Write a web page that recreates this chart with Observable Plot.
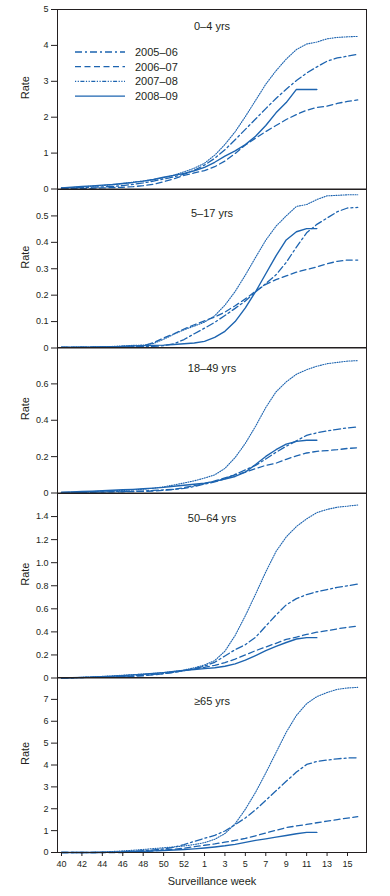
<!DOCTYPE html>
<html>
<head>
<meta charset="utf-8">
<script src="https://cdn.jsdelivr.net/npm/d3@7"></script>
<script src="https://cdn.jsdelivr.net/npm/@observablehq/plot@0.6"></script>
<style>
  html, body { margin: 0; padding: 0; background: #fff; }
  #wrap { position: relative; width: 390px; height: 896px; font-family: "Liberation Sans", Arial, Helvetica, sans-serif; color: #231f20; }
  #wrap svg.panel { position: absolute; left: 0; }
  #legend { position: absolute; left: 0; top: 0; }
</style>
</head>
<body>
<div id="wrap"></div>
<script>
// ---------- data ----------
// surveillance weeks 40..53 of one year, then 1..16 of the next
const weeks = ["40","41","42","43","44","45","46","47","48","49","50","51","52","53","1","2","3","4","5","6","7","8","9","10","11","12","13","14","15","16"];
const weekTicks = ["40","42","44","46","48","50","52","1","3","5","7","9","11","13","15"];
const seasons = ["2005–06", "2006–07", "2007–08", "2008–09"];
const ageGroups = ["0–4 yrs", "5–17 yrs", "18–49 yrs", "50–64 yrs", "≥65 yrs"];

// 0–4 yrs
const a0_s0506 = [0.02,0.03,0.04,0.05,0.06,0.068,0.094,0.13,0.169,0.221,0.279,0.337,0.412,0.521,0.667,0.855,1.093,1.372,1.661,1.95,2.24,2.52,2.78,3.02,3.23,3.4,3.56,3.65,3.7,3.75];
const a0_s0607 = [0.01,0.01,0.02,0.02,0.03,0.04,0.048,0.065,0.092,0.134,0.202,0.285,0.378,0.447,0.511,0.621,0.779,0.989,1.224,1.417,1.601,1.768,1.935,2.075,2.194,2.274,2.307,2.383,2.441,2.48];
const a0_s0708 = [0.03,0.04,0.059,0.078,0.097,0.117,0.152,0.19,0.222,0.264,0.313,0.385,0.478,0.58,0.717,0.943,1.241,1.594,2.017,2.468,2.92,3.293,3.619,3.885,4.038,4.093,4.184,4.222,4.24,4.25];
const a0_s0809 = [0.03,0.05,0.069,0.088,0.107,0.127,0.154,0.183,0.219,0.264,0.326,0.381,0.435,0.509,0.601,0.745,0.916,1.061,1.235,1.47,1.77,2.122,2.407,2.774,2.77,2.77];
// 5–17 yrs
const a5_s0506 = [0.002,0.002,0.002,0.003,0.003,0.004,0.004,0.005,0.005,0.006,0.009,0.016,0.032,0.054,0.075,0.097,0.123,0.15,0.178,0.212,0.244,0.277,0.324,0.382,0.436,0.468,0.492,0.516,0.53,0.532];
const a5_s0607 = [0.002,0.002,0.003,0.003,0.004,0.005,0.006,0.007,0.008,0.02,0.038,0.054,0.072,0.088,0.103,0.117,0.136,0.16,0.186,0.215,0.241,0.259,0.273,0.287,0.297,0.307,0.319,0.328,0.333,0.333];
const a5_s0708 = [0.003,0.003,0.004,0.004,0.005,0.006,0.008,0.01,0.011,0.017,0.033,0.052,0.069,0.083,0.098,0.122,0.162,0.214,0.276,0.343,0.408,0.461,0.5,0.536,0.543,0.562,0.576,0.578,0.58,0.58];
const a5_s0809 = [0.003,0.003,0.003,0.003,0.004,0.005,0.006,0.008,0.009,0.01,0.011,0.013,0.016,0.019,0.025,0.04,0.063,0.1,0.152,0.213,0.281,0.349,0.409,0.44,0.452,0.452];
// 18–49 yrs
const a18_s0506 = [0.002,0.003,0.004,0.005,0.006,0.007,0.008,0.01,0.011,0.014,0.017,0.02,0.025,0.036,0.049,0.061,0.078,0.102,0.127,0.152,0.187,0.224,0.257,0.287,0.317,0.331,0.341,0.35,0.358,0.363];
const a18_s0607 = [0.001,0.002,0.003,0.004,0.005,0.006,0.007,0.008,0.009,0.011,0.015,0.02,0.03,0.04,0.052,0.066,0.083,0.1,0.115,0.134,0.152,0.164,0.185,0.204,0.22,0.229,0.233,0.238,0.245,0.249];
const a18_s0708 = [0.002,0.004,0.006,0.008,0.01,0.012,0.014,0.017,0.021,0.026,0.034,0.044,0.055,0.067,0.082,0.1,0.135,0.195,0.273,0.367,0.47,0.556,0.611,0.653,0.678,0.697,0.711,0.718,0.725,0.728];
const a18_s0809 = [0.004,0.006,0.008,0.01,0.012,0.015,0.018,0.02,0.023,0.027,0.031,0.037,0.043,0.048,0.054,0.064,0.077,0.091,0.115,0.157,0.201,0.238,0.269,0.284,0.29,0.29];
// 50–64 yrs
const a50_s0506 = [0.0,0.002,0.004,0.006,0.009,0.011,0.015,0.019,0.024,0.031,0.038,0.049,0.064,0.081,0.103,0.136,0.191,0.246,0.289,0.353,0.45,0.546,0.634,0.688,0.724,0.748,0.767,0.786,0.8,0.814];
const a50_s0607 = [0.0,0.002,0.004,0.006,0.008,0.01,0.012,0.015,0.019,0.027,0.037,0.049,0.064,0.078,0.093,0.11,0.133,0.164,0.2,0.237,0.269,0.301,0.335,0.355,0.378,0.397,0.411,0.426,0.44,0.45];
const a50_s0708 = [0.0,0.003,0.006,0.01,0.014,0.019,0.024,0.029,0.034,0.04,0.047,0.056,0.069,0.089,0.113,0.151,0.233,0.369,0.54,0.727,0.92,1.097,1.223,1.314,1.38,1.434,1.462,1.481,1.49,1.5];
const a50_s0809 = [0.0,0.002,0.005,0.008,0.011,0.015,0.021,0.027,0.032,0.039,0.047,0.056,0.066,0.074,0.081,0.089,0.102,0.122,0.155,0.195,0.237,0.274,0.308,0.338,0.35,0.35];
// ≥65 yrs
const a65_s0506 = [0.0,0.0,0.0,0.0,0.0,0.008,0.026,0.053,0.082,0.117,0.162,0.242,0.361,0.507,0.651,0.782,0.982,1.272,1.58,1.951,2.385,2.819,3.254,3.678,4.024,4.159,4.225,4.282,4.32,4.33];
const a65_s0607 = [0.0,0.0,0.0,0.0,0.0,0.0,0.0,0.015,0.042,0.071,0.106,0.151,0.199,0.264,0.331,0.393,0.47,0.552,0.644,0.764,0.889,1.017,1.138,1.214,1.283,1.36,1.436,1.504,1.571,1.64];
const a65_s0708 = [0.0,0.0,0.0,0.0,0.017,0.045,0.074,0.103,0.139,0.177,0.216,0.255,0.299,0.364,0.451,0.605,0.865,1.313,1.978,2.751,3.635,4.565,5.496,6.267,6.806,7.125,7.314,7.458,7.521,7.55];
const a65_s0809 = [0.0,0.0,0.0,0.0,0.009,0.018,0.028,0.045,0.057,0.074,0.093,0.112,0.137,0.166,0.205,0.254,0.306,0.372,0.461,0.553,0.624,0.701,0.778,0.856,0.92,0.92];

const yTicks0 = [0,1,2,3,4,5];
const yTicks1 = [0,0.1,0.2,0.3,0.4,0.5];
const yTicks2 = [0,0.2,0.4,0.6];
const yTicks3 = [0,0.2,0.4,0.6,0.8,1.0,1.2,1.4];
const yTicks4 = [0,1,2,3,4,5,6,7];

// ---------- styles ----------
const blue = "#1d64b0";
const ink = "#231f20";
const lineStyles = [
  {dash: "7,3,2,3", w: 1.3},
  {dash: "6,3.5", w: 1.3},
  {dash: "1,1.4", w: 1.1},
  {dash: null, w: 1.4}
];
const legendDash = ["7,3,2,3", "6,3.5", "1.2,1.5,1.2,1.5,4,1.5", null];

const fmt1 = d => d === 0 ? "0" : d3.format(".1f")(d);
const fmtInt = d => String(d);

const panels = [
  {label: ageGroups[0], series: [a0_s0506, a0_s0607, a0_s0708, a0_s0809], domain: [0, 5], ticks: yTicks0, fmt: fmtInt, top: 9, bottom: 188.5, titleDy: 13},
  {label: ageGroups[1], series: [a5_s0506, a5_s0607, a5_s0708, a5_s0809], domain: [0, 0.6], ticks: yTicks1, fmt: fmt1, top: 188.5, bottom: 347, titleDy: 19.5},
  {label: ageGroups[2], series: [a18_s0506, a18_s0607, a18_s0708, a18_s0809], domain: [0, 0.8], ticks: yTicks2, fmt: fmt1, top: 347, bottom: 492.5, titleDy: 17},
  {label: ageGroups[3], series: [a50_s0506, a50_s0607, a50_s0708, a50_s0809], domain: [0, 1.6], ticks: yTicks3, fmt: fmt1, top: 492.5, bottom: 677, titleDy: 20.5},
  {label: ageGroups[4], series: [a65_s0506, a65_s0607, a65_s0708, a65_s0809], domain: [0, 8], ticks: yTicks4, fmt: fmtInt, top: 677, bottom: 852, titleDy: 20, showX: true}
];

const wrap = document.getElementById("wrap");
const xTickIdx = weekTicks.map(w => weeks.indexOf(w));

panels.forEach(p => {
  const pad = 12;
  const mb = p.showX ? (896 - p.bottom) : pad;
  const height = (p.bottom - p.top) + pad + mb;
  const rows = [];
  seasons.forEach((s, k) => p.series[k].forEach((v, i) => rows.push({i, season: s, rate: v})));
  const marks = [
    Plot.axisY(p.ticks, {tickSize: 6, tickPadding: 3, tickFormat: p.fmt, label: null, stroke: ink, fill: ink}),
    ...seasons.map((s, k) => Plot.line(rows.filter(d => d.season === s), {
      x: "i", y: "rate", stroke: blue, strokeWidth: lineStyles[k].w,
      strokeDasharray: lineStyles[k].dash || undefined, strokeLinejoin: "round"
    })),
    Plot.frame({stroke: ink, strokeWidth: 1}),
    Plot.text([p.label], {frameAnchor: "top", dy: p.titleDy, fontSize: 11, fill: ink}),
    Plot.text(["Rate"], {frameAnchor: "left", dx: -32, rotate: -90, fontSize: 11, fill: ink})
  ];
  if (p.showX) {
    marks.push(Plot.axisX(xTickIdx, {tickSize: 4, tickPadding: 4, tickFormat: i => weeks[i], label: null, stroke: ink, fill: ink}));
    marks.push(Plot.text(["Surveillance week"], {frameAnchor: "bottom", dy: 32, fontSize: 11, fill: ink}));
  }
  const chart = Plot.plot({
    width: 390,
    height,
    marginTop: pad,
    marginBottom: mb,
    marginLeft: 57,
    marginRight: 24,
    x: {domain: [-0.39, 29.86], axis: p.showX ? undefined : null},
    y: {domain: p.domain},
    style: {background: "transparent", overflow: "visible", fontSize: "9px", fontFamily: "'Liberation Sans', Arial, Helvetica, sans-serif", color: ink},
    marks
  });
  chart.classList.add("panel");
  chart.style.top = (p.top - pad) + "px";
  wrap.appendChild(chart);
});

// ---------- legend (inside the first panel) ----------
const ns = "http://www.w3.org/2000/svg";
const leg = document.createElementNS(ns, "svg");
leg.setAttribute("id", "legend");
leg.setAttribute("width", 200);
leg.setAttribute("height", 110);
seasons.forEach((s, k) => {
  const y = 52 + k * 14.7;
  const ln = document.createElementNS(ns, "line");
  ln.setAttribute("x1", 75); ln.setAttribute("x2", 125);
  ln.setAttribute("y1", y); ln.setAttribute("y2", y);
  ln.setAttribute("stroke", blue);
  ln.setAttribute("stroke-width", 1.3);
  if (legendDash[k]) ln.setAttribute("stroke-dasharray", legendDash[k]);
  leg.appendChild(ln);
  const t = document.createElementNS(ns, "text");
  t.setAttribute("x", 135); t.setAttribute("y", y);
  t.setAttribute("dy", "0.35em");
  t.setAttribute("font-size", 11);
  t.setAttribute("fill", ink);
  t.setAttribute("font-family", "'Liberation Sans', Arial, sans-serif");
  t.textContent = s;
  leg.appendChild(t);
});
wrap.appendChild(leg);
</script>
</body>
</html>
